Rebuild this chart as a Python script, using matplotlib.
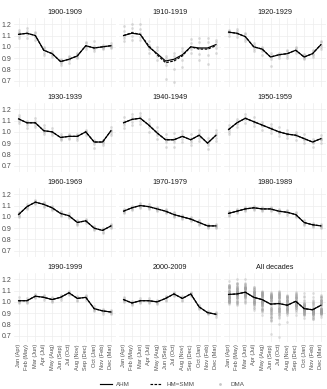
import matplotlib
matplotlib.use("Agg")
import matplotlib.pyplot as plt
from matplotlib.lines import Line2D

plt.rcParams['font.family'] = ['Liberation Sans', 'DejaVu Sans']

months = ["Jan (Apr)", "Feb (May)", "Mar (Jun)", "Apr (Jul)", "May (Aug)", "Jun (Sep)",
          "Jul (Oct)", "Aug (Nov)", "Sep (Dec)", "Oct (Jan)", "Nov (Feb)", "Dec (Mar)"]
decades = ["1900-1909", "1910-1919", "1920-1929", "1930-1939", "1940-1949", "1950-1959",
           "1960-1969", "1970-1979", "1980-1989", "1990-1999", "2000-2009"]
y_ticks = [0.7, 0.8, 0.9, 1.0, 1.1, 1.2]

# AHM line per decade
ahm_1900 = [1.11, 1.12, 1.10, 0.97, 0.94, 0.87, 0.89, 0.92, 1.01, 0.99, 1.00, 1.01]
ahm_1910 = [1.10, 1.12, 1.11, 1.00, 0.94, 0.875, 0.89, 0.93, 1.00, 0.99, 0.99, 1.02]
ahm_1920 = [1.13, 1.12, 1.09, 1.00, 0.98, 0.91, 0.93, 0.94, 0.97, 0.91, 0.94, 1.02]
ahm_1930 = [1.115, 1.08, 1.08, 1.01, 1.00, 0.95, 0.96, 0.96, 1.00, 0.91, 0.91, 1.01]
ahm_1940 = [1.08, 1.11, 1.12, 1.06, 0.99, 0.93, 0.93, 0.96, 0.93, 0.97, 0.90, 0.97]
ahm_1950 = [1.02, 1.08, 1.12, 1.09, 1.06, 1.03, 1.00, 0.98, 0.97, 0.94, 0.91, 0.94]
ahm_1960 = [1.02, 1.09, 1.13, 1.11, 1.08, 1.03, 1.01, 0.95, 0.965, 0.90, 0.88, 0.92]
ahm_1970 = [1.05, 1.08, 1.10, 1.09, 1.07, 1.05, 1.02, 1.00, 0.98, 0.95, 0.92, 0.92]
ahm_1980 = [1.03, 1.05, 1.07, 1.08, 1.07, 1.07, 1.05, 1.04, 1.02, 0.95, 0.93, 0.92]
ahm_1990 = [1.01, 1.01, 1.05, 1.04, 1.02, 1.04, 1.08, 1.03, 1.04, 0.94, 0.92, 0.91]
ahm_2000 = [1.02, 0.99, 1.01, 1.01, 1.00, 1.03, 1.07, 1.03, 1.07, 0.955, 0.905, 0.89]
ahm_all = [1.065, 1.07, 1.085, 1.04, 1.02, 0.98, 0.985, 0.97, 1.005, 0.94, 0.93, 0.97]

# HM=SMM differs visibly only in 1910-1919
hm_1910 = [1.10, 1.125, 1.11, 1.01, 0.93, 0.86, 0.875, 0.92, 1.00, 0.98, 0.98, 1.01]

# DMA points per decade (per month, several years)
dma_1900 = [[1.08, 1.10, 1.12, 1.13, 1.15], [1.08, 1.11, 1.12, 1.14, 1.17], [1.06, 1.09, 1.10, 1.12, 1.13],
            [0.93, 0.95, 0.97, 0.99, 1.00], [0.91, 0.93, 0.94, 0.95, 0.96], [0.84, 0.86, 0.87, 0.88, 0.89],
            [0.86, 0.88, 0.89, 0.91, 0.92], [0.90, 0.91, 0.92, 0.94, 0.95], [0.98, 1.00, 1.01, 1.03, 1.04],
            [0.96, 0.98, 0.99, 1.01, 1.05], [0.98, 0.99, 1.00, 1.01, 1.02], [0.99, 1.00, 1.01, 1.02, 1.03]]
dma_1910 = [[1.05, 1.08, 1.10, 1.14, 1.18], [1.06, 1.10, 1.13, 1.17, 1.20], [1.06, 1.09, 1.12, 1.16, 1.20],
            [0.95, 0.98, 1.00, 1.02, 1.05], [0.88, 0.92, 0.94, 0.97, 1.00], [0.72, 0.84, 0.87, 0.90, 0.92],
            [0.69, 0.80, 0.88, 0.92, 0.95], [0.82, 0.88, 0.93, 0.96, 0.99], [0.95, 0.98, 1.00, 1.03, 1.07],
            [0.88, 0.94, 0.99, 1.04, 1.08], [0.85, 0.93, 0.99, 1.04, 1.08], [0.95, 0.99, 1.02, 1.04, 1.06]]
dma_1920 = [[1.10, 1.12, 1.13, 1.14, 1.15], [1.09, 1.11, 1.12, 1.14, 1.16], [1.05, 1.07, 1.09, 1.11, 1.12],
            [0.96, 0.98, 1.00, 1.02, 1.03], [0.93, 0.96, 0.98, 0.99, 1.00], [0.83, 0.89, 0.91, 0.93, 0.95],
            [0.90, 0.92, 0.93, 0.94, 0.95], [0.90, 0.92, 0.94, 0.96, 0.97], [0.95, 0.96, 0.97, 0.99, 1.00],
            [0.89, 0.90, 0.91, 0.93, 0.94], [0.91, 0.93, 0.94, 0.96, 0.97], [0.98, 1.00, 1.02, 1.04, 1.05]]
dma_1930 = [[1.08, 1.10, 1.11, 1.13, 1.15], [1.03, 1.06, 1.08, 1.09, 1.10], [1.04, 1.06, 1.08, 1.10, 1.12],
            [0.98, 1.00, 1.01, 1.03, 1.06], [0.97, 0.99, 1.00, 1.01, 1.03], [0.93, 0.94, 0.95, 0.96, 0.98],
            [0.94, 0.95, 0.96, 0.97, 0.98], [0.93, 0.95, 0.96, 0.97, 0.98], [0.97, 0.99, 1.00, 1.01, 1.02],
            [0.86, 0.89, 0.91, 0.92, 0.93], [0.88, 0.90, 0.91, 0.92, 0.93], [0.97, 0.99, 1.01, 1.02, 1.04]]
dma_1940 = [[1.03, 1.06, 1.08, 1.10, 1.13], [1.06, 1.09, 1.11, 1.13, 1.16], [1.07, 1.10, 1.12, 1.14, 1.17],
            [1.00, 1.04, 1.06, 1.08, 1.11], [0.94, 0.97, 0.99, 1.01, 1.04], [0.87, 0.91, 0.93, 0.95, 0.98],
            [0.87, 0.91, 0.93, 0.95, 0.99], [0.91, 0.94, 0.96, 0.98, 1.01], [0.88, 0.91, 0.93, 0.95, 0.98],
            [0.92, 0.95, 0.97, 0.99, 1.02], [0.85, 0.88, 0.90, 0.92, 0.95], [0.92, 0.95, 0.97, 0.99, 1.02]]
dma_1950 = [[0.98, 1.00, 1.02, 1.03, 1.06], [1.04, 1.07, 1.08, 1.10, 1.11], [1.08, 1.11, 1.12, 1.13, 1.16],
            [1.05, 1.08, 1.09, 1.10, 1.13], [1.02, 1.05, 1.06, 1.07, 1.09], [0.99, 1.02, 1.03, 1.04, 1.07],
            [0.96, 0.99, 1.00, 1.01, 1.04], [0.95, 0.97, 0.98, 0.99, 1.02], [0.93, 0.96, 0.97, 0.98, 1.00],
            [0.90, 0.93, 0.94, 0.95, 0.98], [0.87, 0.90, 0.91, 0.92, 0.94], [0.90, 0.93, 0.94, 0.95, 0.97]]
dma_1960 = [[1.00, 1.01, 1.02, 1.03, 1.04], [1.07, 1.08, 1.09, 1.10, 1.11], [1.11, 1.12, 1.13, 1.14, 1.15],
            [1.09, 1.10, 1.11, 1.12, 1.13], [1.06, 1.07, 1.08, 1.09, 1.10], [1.01, 1.02, 1.03, 1.04, 1.05],
            [0.99, 1.00, 1.01, 1.02, 1.03], [0.93, 0.94, 0.95, 0.96, 0.97], [0.95, 0.96, 0.965, 0.97, 0.98],
            [0.88, 0.89, 0.90, 0.91, 0.92], [0.86, 0.87, 0.88, 0.89, 0.90], [0.90, 0.91, 0.92, 0.93, 0.94]]
dma_1970 = [[1.03, 1.04, 1.05, 1.06, 1.07], [1.06, 1.07, 1.08, 1.09, 1.10], [1.08, 1.09, 1.10, 1.11, 1.12],
            [1.07, 1.08, 1.09, 1.10, 1.11], [1.05, 1.06, 1.07, 1.08, 1.09], [1.03, 1.04, 1.05, 1.06, 1.07],
            [1.00, 1.01, 1.02, 1.03, 1.04], [0.98, 0.99, 1.00, 1.01, 1.02], [0.96, 0.97, 0.98, 0.99, 1.00],
            [0.93, 0.94, 0.95, 0.96, 0.97], [0.90, 0.91, 0.92, 0.93, 0.94], [0.90, 0.91, 0.92, 0.93, 0.94]]
dma_1980 = [[1.01, 1.02, 1.03, 1.04, 1.05], [1.03, 1.04, 1.05, 1.06, 1.07], [1.05, 1.06, 1.07, 1.08, 1.09],
            [1.06, 1.07, 1.08, 1.09, 1.10], [1.05, 1.06, 1.07, 1.08, 1.09], [1.05, 1.06, 1.07, 1.08, 1.09],
            [1.03, 1.04, 1.05, 1.06, 1.07], [1.02, 1.03, 1.04, 1.05, 1.06], [1.00, 1.01, 1.02, 1.03, 1.04],
            [0.93, 0.94, 0.95, 0.96, 0.97], [0.91, 0.92, 0.93, 0.94, 0.95], [0.90, 0.91, 0.92, 0.93, 0.94]]
dma_1990 = [[0.99, 1.00, 1.01, 1.02, 1.04], [0.99, 1.00, 1.01, 1.02, 1.03], [1.03, 1.04, 1.05, 1.06, 1.07],
            [1.02, 1.03, 1.04, 1.05, 1.06], [1.00, 1.01, 1.02, 1.03, 1.04], [1.02, 1.03, 1.04, 1.05, 1.06],
            [1.06, 1.07, 1.08, 1.09, 1.10], [1.01, 1.02, 1.03, 1.04, 1.05], [1.02, 1.03, 1.04, 1.05, 1.06],
            [0.92, 0.93, 0.94, 0.95, 0.96], [0.89, 0.91, 0.92, 0.93, 0.94], [0.89, 0.90, 0.91, 0.92, 0.93]]
dma_2000 = [[1.00, 1.01, 1.02, 1.03, 1.04], [0.97, 0.98, 0.99, 1.00, 1.01], [0.99, 1.00, 1.01, 1.02, 1.03],
            [0.99, 1.00, 1.01, 1.02, 1.03], [0.98, 0.99, 1.00, 1.01, 1.02], [1.01, 1.02, 1.03, 1.04, 1.05],
            [1.05, 1.06, 1.07, 1.08, 1.09], [1.01, 1.02, 1.03, 1.04, 1.05], [1.05, 1.06, 1.07, 1.08, 1.09],
            [0.94, 0.95, 0.955, 0.96, 0.97], [0.89, 0.90, 0.905, 0.91, 0.92], [0.87, 0.88, 0.89, 0.90, 0.91]]

ahm_list = [ahm_1900, ahm_1910, ahm_1920, ahm_1930, ahm_1940, ahm_1950,
            ahm_1960, ahm_1970, ahm_1980, ahm_1990, ahm_2000]
hm_list = [ahm_1900, hm_1910, ahm_1920, ahm_1930, ahm_1940, ahm_1950,
           ahm_1960, ahm_1970, ahm_1980, ahm_1990, ahm_2000]
dma_list = [dma_1900, dma_1910, dma_1920, dma_1930, dma_1940, dma_1950,
            dma_1960, dma_1970, dma_1980, dma_1990, dma_2000]

W, H = 327, 389
fig = plt.figure(figsize=(W / 100, H / 100), dpi=100)

col_left = [13.5, 118.5, 223.5]
col_w = 102.5
row_top = [18, 103, 188, 273]
row_h = 69

TICK_C = '#4d4d4d'
GRID_C = '#ededed'
DOT_C = '#a0a0a0'
DASH = (0, (2.2, 1.2))

panels = decades + ["All decades"]
for i, name in enumerate(panels):
    r, c = divmod(i, 3)
    ax = fig.add_axes([col_left[c] / W, 1 - (row_top[r] + row_h) / H, col_w / W, row_h / H])
    ax.set_xlim(-0.6, 11.6)
    ax.set_ylim(0.645, 1.255)
    for s in ax.spines.values():
        s.set_visible(False)
    ax.set_xticks(range(12))
    ax.set_yticks(y_ticks)
    ax.grid(True, color=GRID_C, linewidth=0.5)
    ax.set_axisbelow(True)
    ax.tick_params(length=0, pad=1.5, labelsize=5, colors=TICK_C)
    if c == 0:
        ax.set_yticklabels([f"{v:.1f}" for v in y_ticks])
    else:
        ax.set_yticklabels([])
    if r == 3:
        ax.set_xticklabels(months, rotation=90, fontsize=4.1)
    else:
        ax.set_xticklabels([])
    ax.set_title(name, fontsize=5.2, color='#1a1a1a', pad=3)

    if i < len(decades):
        dma = dma_list[i]
        xs = [m for m in range(12) for _ in dma[m]]
        ys = [v for m in range(12) for v in dma[m]]
        ax.scatter(xs, ys, s=4, color=DOT_C, alpha=0.35, linewidths=0)
        ax.plot(range(12), hm_list[i], color='black', lw=0.85, ls=DASH)
        ax.plot(range(12), ahm_list[i], color='black', lw=0.85)
    else:
        xs, ys = [], []
        for dma in dma_list:
            for m in range(12):
                for v in dma[m]:
                    xs.append(m)
                    ys.append(v)
        ax.scatter(xs, ys, s=4, color=DOT_C, alpha=0.3, linewidths=0)
        ax.plot(range(12), ahm_all, color='black', lw=0.85, ls=DASH)
        ax.plot(range(12), ahm_all, color='black', lw=0.85)

handles = [Line2D([], [], color='black', lw=0.85),
           Line2D([], [], color='black', lw=0.85, ls=DASH),
           Line2D([], [], color=DOT_C, marker='o', ls='', markersize=2, alpha=0.6, markeredgewidth=0)]
fig.legend(handles, ["AHM", "HM=SMM", "DMA"], loc='center', bbox_to_anchor=(172 / W, 1 - 384 / H),
           ncol=3, frameon=False, fontsize=4.5, handlelength=2.0, columnspacing=3.2,
           handletextpad=0.6, labelcolor=TICK_C)

fig.savefig("out.png", dpi=100)
